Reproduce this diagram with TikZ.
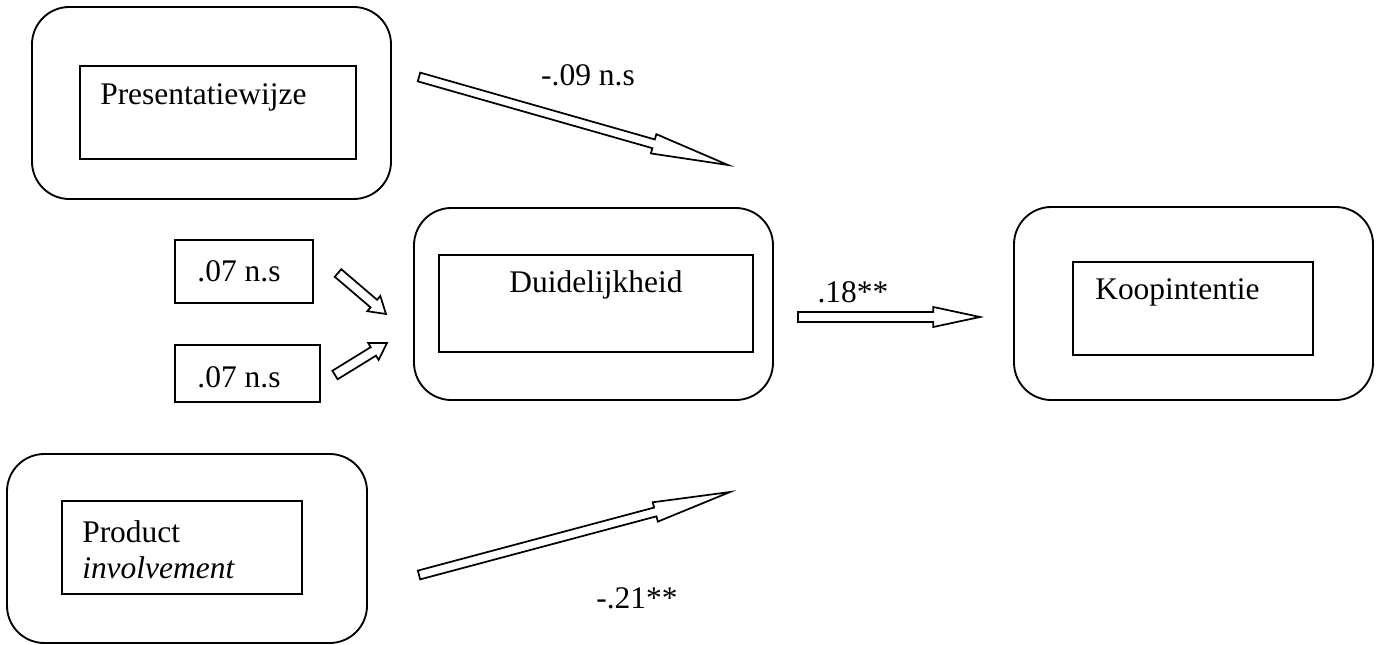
\documentclass[tikz,border=0pt]{standalone}
\usepackage{fontspec}
\setmainfont{Liberation Serif}
\usetikzlibrary{calc}
\tikzset{
  outerbox/.style={draw, line width=1.4pt, rounded corners=28pt, inner sep=0pt},
  innerbox/.style={draw, line width=1.2pt, inner sep=0pt},
  lbl/.style={inner sep=0pt, font=\fontsize{23.6}{27}\selectfont},
  blockarr/.style={draw, fill=white, line width=1.3pt, line join=miter},
}
\newcommand\blockarrow[5]{%
  \path let \p1=($(#2)-(#1)$) in
    \pgfextra{\pgfmathsetmacro\baang{atan2(\y1,\x1)}\pgfmathsetmacro\balen{veclen(\x1,\y1)}\global\let\baang\baang\global\let\balen\balen};
  \draw[blockarr, shift={(#1)}, rotate=\baang]
    (0pt,#3) -- ({\balen pt-#5},#3) -- ({\balen pt-#5},#4) -- (\balen pt,0pt)
    -- ({\balen pt-#5},-#4) -- ({\balen pt-#5},-#3) -- (0pt,-#3) -- cycle;
}
\begin{document}
\begin{tikzpicture}[x=0.75pt,y=-0.75pt]
\useasboundingbox (0,0) rectangle (1376,645);
% Presentatiewijze
\node[outerbox, minimum width=269.25pt, minimum height=144pt] (p-out) at (211.5,103) {};
\node[innerbox, minimum width=207pt, minimum height=69.75pt] (p-in) at (218,112.5) {};
\node[lbl, anchor=west] (p-txt) at (100,97) {Presentatiewijze};
% Duidelijkheid
\node[outerbox, minimum width=269.25pt, minimum height=144pt] (d-out) at (593.5,304) {};
\node[innerbox, minimum width=235.5pt, minimum height=72.75pt] (d-in) at (596,303.5) {};
\node[lbl] (d-txt) at (596,285) {Duidelijkheid};
% Koopintentie
\node[outerbox, minimum width=269.25pt, minimum height=144.75pt] (k-out) at (1193.5,303.5) {};
\node[innerbox, minimum width=180pt, minimum height=69.75pt] (k-in) at (1193,308.5) {};
\node[lbl, anchor=west] (k-txt) at (1095,292) {Koopintentie};
% Product involvement
\node[outerbox, minimum width=270pt, minimum height=141.75pt] (pi-out) at (187,548.5) {};
\node[innerbox, minimum width=180pt, minimum height=69.75pt] (pi-in) at (182,547.5) {};
\node[lbl, anchor=west] (pi-txt1) at (82,532) {Product};
\node[lbl, anchor=west] (pi-txt2) at (82,568) {\itshape involvement};
% .07 n.s boxes
\node[innerbox, minimum width=103.5pt, minimum height=47.25pt] (la-box) at (244,271.5) {};
\node[lbl] (la-txt) at (239,271) {.07 n.s};
\node[innerbox, minimum width=108.75pt, minimum height=42.75pt] (lb-box) at (247.5,373.5) {};
\node[lbl] (lb-txt) at (239,377) {.07 n.s};
% arrow labels
\node[lbl] (l1) at (588,75) {-.09 n.s};
\node[lbl] (l4) at (853,292) {.18**};
\node[lbl] (l5) at (637,598) {-.21**};
% arrow coordinates
\coordinate (a1s) at (419,77);  \coordinate (a1e) at (728,165);
\coordinate (a2s) at (338,273); \coordinate (a2e) at (386,314);
\coordinate (a3s) at (335,375); \coordinate (a3e) at (387,343);
\coordinate (a4s) at (798,317); \coordinate (a4e) at (980,317);
\coordinate (a5s) at (419,575); \coordinate (a5e) at (730,492);
\blockarrow{a1s}{a1e}{3.4pt}{7.5pt}{58pt}
\blockarrow{a2s}{a2e}{3.75pt}{7.5pt}{12pt}
\blockarrow{a3s}{a3e}{3.75pt}{7.5pt}{12pt}
\blockarrow{a4s}{a4e}{3.75pt}{7.5pt}{35pt}
\blockarrow{a5s}{a5e}{3.4pt}{7.5pt}{58pt}
\end{tikzpicture}
\end{document}
